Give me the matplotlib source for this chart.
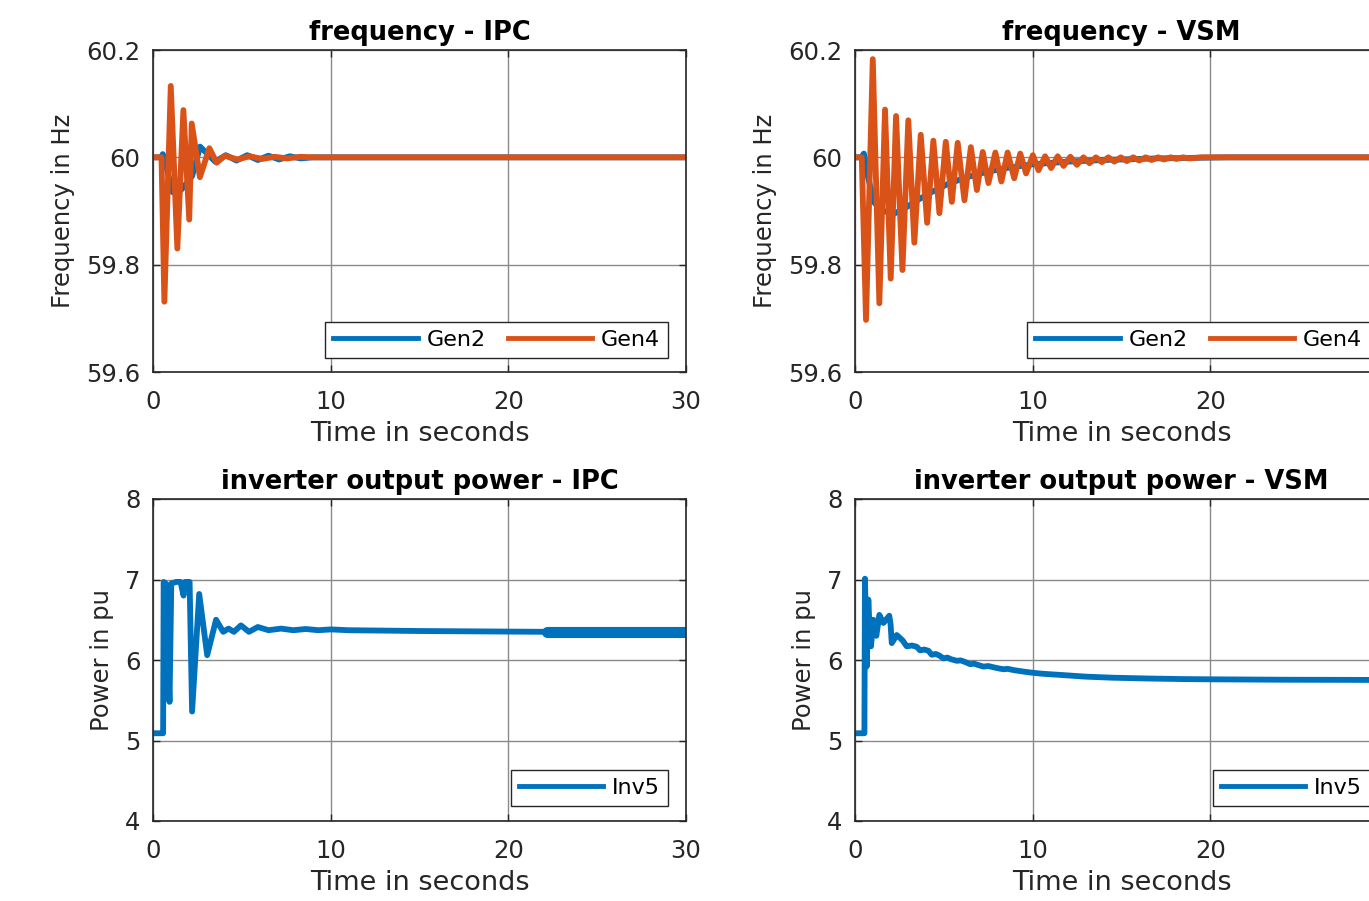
import matplotlib
matplotlib.use("Agg")
import matplotlib.pyplot as plt

# ---------------- data ----------------
# frequency - IPC
ipc_gen2_t = [0, 0.45, 0.55, 0.7, 1.1, 1.6, 2.2, 2.65, 3.1, 3.5, 4.1, 4.7, 5.3, 5.9, 6.5, 7.1, 7.7, 8.3, 9.0, 10, 30]
ipc_gen2_f = [60, 60, 60.006, 59.99, 59.935, 59.94, 59.965, 60.02, 60.005, 59.992, 60.004, 59.994, 60.004,
              59.995, 60.003, 59.996, 60.002, 59.998, 60.0, 60.0, 60.0]
ipc_gen4_t = [0, 0.48, 0.64, 1.0, 1.37, 1.71, 2.04, 2.18, 2.64, 3.17, 3.58, 4.05, 4.75, 5.45, 6.15, 6.85,
              7.55, 8.3, 9.0, 30]
ipc_gen4_f = [60, 60, 59.731, 60.133, 59.83, 60.088, 59.884, 60.063, 59.963, 60.017, 59.99, 60.003, 59.996,
              60.002, 59.997, 60.001, 59.998, 60.001, 60.0, 60.0]

# frequency - VSM
vsm_gen2_t = [0, 0.35, 0.5, 0.75, 1.1, 1.6, 2.2, 2.8, 3.5, 4.3, 5.2, 6.2, 7.3, 8.5, 10, 12, 14, 17, 21, 30]
vsm_gen2_f = [60, 60, 60.007, 59.96, 59.915, 59.9, 59.895, 59.905, 59.92, 59.935, 59.95, 59.962, 59.972,
              59.98, 59.987, 59.992, 59.995, 59.998, 60.0, 60.0]
vsm_gen4_t = [0, 0.38, 0.62, 1.0, 1.37, 1.69, 2.01, 2.31, 2.67, 3.0, 3.34, 3.70, 4.06, 4.41, 4.75, 5.11,
              5.45, 5.78, 6.16, 6.52, 6.86, 7.19, 7.51, 7.90, 8.24, 8.59, 8.96, 9.30, 9.63, 10.01, 10.33,
              10.70, 11.04, 11.41, 11.74, 12.12, 12.49, 12.86, 13.2, 13.56, 13.9, 14.26, 14.6, 14.96, 15.3,
              15.66, 16.0, 16.36, 16.7, 17.06, 17.4, 17.76, 18.1, 18.46, 18.8, 19.5, 30]
vsm_gen4_f = [60, 60, 59.697, 60.183, 59.728, 60.089, 59.774, 60.077, 59.79, 60.069, 59.841, 60.042,
              59.878, 60.031, 59.896, 60.029, 59.917, 60.027, 59.92, 60.019, 59.939, 60.010, 59.952,
              60.009, 59.955, 60.009, 59.961, 60.007, 59.970, 60.004, 59.976, 60.002, 59.980, 60.002,
              59.984, 60.001, 59.986, 60.0, 59.989, 60.0, 59.991, 60.0, 59.992, 60.0, 59.993, 60.0,
              59.994, 60.0, 59.995, 60.0, 59.996, 60.0, 59.997, 60.0, 59.998, 60.0, 60.0]

# inverter output power - IPC
ipc_inv5_t = [0, 0.57, 0.6, 0.72, 0.93, 1.03, 1.3, 1.55, 1.72, 1.8, 2.06, 2.2, 2.6, 3.05, 3.55, 3.95, 4.25,
              4.55, 4.95, 5.4, 5.9, 6.5, 7.2, 7.9, 8.6, 9.3, 10.0, 11.0, 15.0, 22.15, 30]
ipc_inv5_p = [5.09, 5.09, 6.97, 6.95, 5.48, 6.95, 6.97, 6.97, 6.8, 6.97, 6.97, 5.36, 6.82, 6.06, 6.5, 6.35,
              6.39, 6.35, 6.43, 6.35, 6.41, 6.37, 6.39, 6.37, 6.385, 6.37, 6.38, 6.37, 6.36, 6.35, 6.35]
# fast oscillation band at the end of the IPC power trace
ipc_osc_t = [22.15, 30]
ipc_osc_p = [6.35, 6.35]

# inverter output power - VSM
vsm_inv5_t = [0, 0.53, 0.56, 0.6, 0.66, 0.75, 0.82, 0.9, 1.03, 1.2, 1.37, 1.6, 1.93, 2.0, 2.07, 2.35,
              2.55, 2.69, 2.91, 3.2, 3.47, 3.66, 3.9, 4.13, 4.32, 4.55, 4.75, 4.98, 5.2, 5.4, 5.73, 5.95,
              6.2, 6.48, 6.7, 6.9, 7.23, 7.5, 7.79, 8.1, 8.36, 8.6, 8.92, 9.3, 9.86, 10.5, 11.74, 13.0,
              14.5, 16.5, 18.5, 20, 24, 30]
vsm_inv5_p = [5.09, 5.09, 7.01, 6.6, 5.92, 6.75, 6.4, 6.17, 6.5, 6.3, 6.56, 6.46, 6.55, 6.45, 6.21, 6.31,
              6.27, 6.24, 6.17, 6.18, 6.165, 6.12, 6.13, 6.115, 6.065, 6.075, 6.055, 6.02, 6.03, 6.01,
              5.99, 5.995, 5.975, 5.948, 5.955, 5.94, 5.918, 5.925, 5.91, 5.895, 5.885, 5.89, 5.875,
              5.862, 5.845, 5.83, 5.812, 5.793, 5.78, 5.77, 5.763, 5.76, 5.755, 5.752]

x_ticks = [0, 10, 20, 30]
x_labels = ["0", "10", "20", "30"]
freq_ticks = [59.6, 59.8, 60.0, 60.2]
freq_labels = ["59.6", "59.8", "60", "60.2"]
pow_ticks = [4, 5, 6, 7, 8]
pow_labels = ["4", "5", "6", "7", "8"]

titles = ["frequency - IPC", "frequency - VSM", "inverter output power - IPC", "inverter output power - VSM"]

# ---------------- style ----------------
BLUE = "#0072BD"
ORANGE = "#D95319"
EDGE = "#262626"
LW = 4.2

fig = plt.figure(figsize=(13.69, 9.01), dpi=100)
W, H = 1369.0, 901.0

def make_ax(x0, ytop, ybot, xend):
    return fig.add_axes([x0 / W, 1 - ybot / H, (xend - x0) / W, (ybot - ytop) / H])

ax_tl = make_ax(153, 50, 372, 686)
ax_tr = make_ax(855, 50, 372, 1388)
ax_bl = make_ax(153, 499, 821, 686)
ax_br = make_ax(855, 499, 821, 1388)

def style(ax, yt, yl, ylim, title, ylabel, ylsize, clipped):
    ax.set_xlim(0, 30)
    ax.set_ylim(*ylim)
    ax.set_xticks(x_ticks)
    # the right-hand panels run past the figure edge: their last label lies outside the picture
    ax.set_xticklabels(x_labels[:-1] + [""] if clipped else x_labels)
    ax.set_yticks(yt)
    ax.set_yticklabels(yl)
    ax.grid(True, color="#8a8a8a", linewidth=1.0)
    ax.set_axisbelow(True)
    ax.tick_params(direction="in", length=5, width=1, color=EDGE, labelsize=17.5,
                   top=True, right=True, pad=9, labelcolor="#262626")
    ax.tick_params(axis="x", pad=13)
    for s in ax.spines.values():
        s.set_color(EDGE)
        s.set_linewidth(1.2)
    ax.set_title(title, fontsize=18.5, fontweight="bold", pad=7, color="black")
    ax.set_xlabel("Time in seconds", fontsize=19.5, color="#262626", labelpad=5)
    ax.set_ylabel(ylabel, fontsize=ylsize, color="#262626", labelpad=8)

for ax, t2, f2, t4, f4, ttl, clip in [(ax_tl, ipc_gen2_t, ipc_gen2_f, ipc_gen4_t, ipc_gen4_f, titles[0], False),
                                      (ax_tr, vsm_gen2_t, vsm_gen2_f, vsm_gen4_t, vsm_gen4_f, titles[1], True)]:
    ax.plot(t2, f2, color=BLUE, lw=LW, label="Gen2", solid_joinstyle="round")
    ax.plot(t4, f4, color=ORANGE, lw=LW, label="Gen4", solid_joinstyle="round")
    style(ax, freq_ticks, freq_labels, (59.6, 60.2), ttl, "Frequency in Hz", 17.5, clip)
    leg = ax.legend(loc="lower right", bbox_to_anchor=(515 / 533, 14 / 322), ncol=2, fontsize=16,
                    handlelength=3.8, handletextpad=0.4, columnspacing=1.0, borderpad=0.35,
                    borderaxespad=0, fancybox=False, framealpha=1)
    leg.get_frame().set_edgecolor(EDGE)
    leg.get_frame().set_linewidth(1.0)
    for h in leg.get_lines():
        h.set_linewidth(3.5)

ax_bl.plot(ipc_inv5_t, ipc_inv5_p, color=BLUE, lw=LW, label="Inv5", solid_joinstyle="round")
ax_bl.plot(ipc_osc_t, ipc_osc_p, color=BLUE, lw=8.0, solid_capstyle="round")
ax_br.plot(vsm_inv5_t, vsm_inv5_p, color=BLUE, lw=LW, label="Inv5", solid_joinstyle="round")
for ax, ttl, clip in [(ax_bl, titles[2], False), (ax_br, titles[3], True)]:
    style(ax, pow_ticks, pow_labels, (4, 8), ttl, "Power in pu", 17.5, clip)
    leg = ax.legend(handles=ax.get_lines()[:1], loc="lower right", bbox_to_anchor=(515 / 533, 15 / 322),
                    fontsize=16, handlelength=3.8, handletextpad=0.4, borderpad=0.35,
                    borderaxespad=0, fancybox=False, framealpha=1)
    leg.get_frame().set_edgecolor(EDGE)
    leg.get_frame().set_linewidth(1.0)
    for h in leg.get_lines():
        h.set_linewidth(3.5)

fig.savefig("out.png", dpi=100)
